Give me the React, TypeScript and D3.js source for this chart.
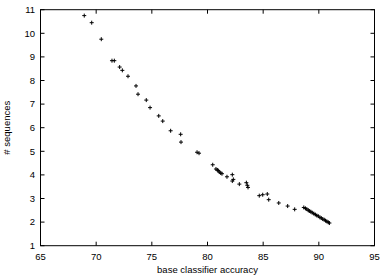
import React from "react";
import * as d3 from "d3";

const accuracy = [
  68.93, 69.6, 70.46, 71.42, 71.63, 72.11, 72.35, 72.86, 73.58, 73.76, 74.5, 74.84,
  75.62, 75.98, 76.69, 77.59, 77.62, 79.06, 79.24, 80.47, 80.76, 80.88, 80.97, 81.06,
  81.19, 81.3, 81.75, 82.23, 82.32, 82.23, 82.86, 83.49, 83.58, 83.64, 84.65, 84.96,
  85.37, 85.5, 86.4, 87.2, 87.83,
  88.65, 88.8, 88.92, 89.05, 89.15, 89.28, 89.4, 89.55, 89.68, 89.82, 89.95, 90.1,
  90.22, 90.35, 90.48, 90.6, 90.72, 90.85, 90.95,
];
const sequences = [
  10.75, 10.45, 9.75, 8.84, 8.84, 8.57, 8.43, 8.18, 7.77, 7.42, 7.17, 6.85,
  6.5, 6.28, 5.87, 5.72, 5.39, 4.96, 4.92, 4.43, 4.25, 4.21, 4.18, 4.12,
  4.08, 4.05, 3.92, 4.01, 3.81, 3.74, 3.61, 3.67, 3.56, 3.47, 3.12, 3.16,
  3.19, 2.95, 2.81, 2.68, 2.54,
  2.62, 2.58, 2.55, 2.5, 2.47, 2.44, 2.4, 2.36, 2.32, 2.28, 2.25, 2.2,
  2.17, 2.13, 2.1, 2.06, 2.03, 1.99, 1.96,
];
const xTicks = [65, 70, 75, 80, 85, 90, 95];
const yTicks = [1, 2, 3, 4, 5, 6, 7, 8, 9, 10, 11];

export default function App() {
  const W = 387, H = 276;
  const left = 40.5, right = 374.5, top = 9.7, bottom = 245.7;
  const x = d3.scaleLinear().domain([65, 95]).range([left, right]);
  const y = d3.scaleLinear().domain([1, 11]).range([bottom, top]);
  const tl = 4;
  const font = "'Liberation Sans', Arial, sans-serif";
  return (
    <svg width={W} height={H} style={{ position: "absolute", left: 0, top: 0, background: "#fff" }}>
      <rect x={left} y={top} width={right - left} height={bottom - top} fill="none" stroke="#000" strokeWidth={1} />
      {xTicks.map((t) => (
        <g key={"x" + t}>
          <line x1={x(t)} x2={x(t)} y1={bottom} y2={bottom - tl} stroke="#000" />
          <line x1={x(t)} x2={x(t)} y1={top} y2={top + tl} stroke="#000" />
          <text x={x(t)} y={259.5} fontSize={9.5} fontFamily={font} textAnchor="middle" fill="#000">{t}</text>
        </g>
      ))}
      {yTicks.map((t) => (
        <g key={"y" + t}>
          <line x1={left} x2={left + tl} y1={y(t)} y2={y(t)} stroke="#000" />
          <line x1={right} x2={right - tl} y1={y(t)} y2={y(t)} stroke="#000" />
          <text x={35} y={y(t) + 3.3} fontSize={9.5} fontFamily={font} textAnchor="end" fill="#000">{t}</text>
        </g>
      ))}
      <text x={(left + right) / 2} y={273} fontSize={9.5} fontFamily={font} textAnchor="middle" fill="#000">base classifier accuracy</text>
      <text transform={`translate(10,${(top + bottom) / 2}) rotate(-90)`} fontSize={9.5} fontFamily={font} textAnchor="middle" fill="#000"># sequences</text>
      {accuracy.map((a, i) => {
        const cx = x(a), cy = y(sequences[i]);
        return (
          <g key={i} stroke="#000" strokeWidth={1}>
            <line x1={cx - 2} x2={cx + 2} y1={cy} y2={cy} />
            <line x1={cx} x2={cx} y1={cy - 2} y2={cy + 2} />
          </g>
        );
      })}
    </svg>
  );
}
